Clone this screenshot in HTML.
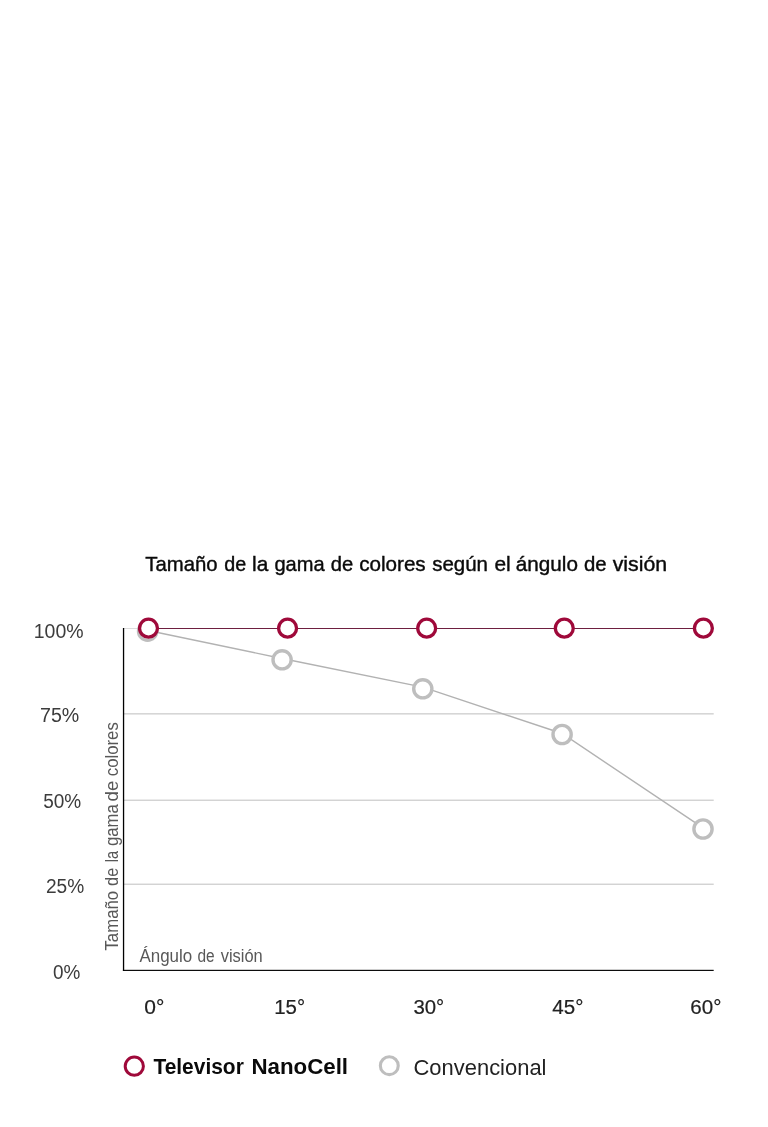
<!DOCTYPE html>
<html lang="es">
<head>
<meta charset="utf-8">
<title>Tamaño de la gama de colores según el ángulo de visión</title>
<style>
  html, body { margin: 0; padding: 0; background: #ffffff; }
  body { width: 768px; height: 1127px; overflow: hidden; position: relative; }
  svg { position: absolute; left: 0; top: 0; display: block; }
  text { font-family: "Liberation Sans", sans-serif; white-space: pre; }
  .title { font-size: 21px; fill: #0a0a0a; stroke: #0a0a0a; stroke-width: 0.4px; }
  .ylab { font-size: 20px; fill: #3c3c3c; }
  .xlab { font-size: 19.5px; fill: #222222; stroke: #222222; stroke-width: 0.2px; }
  .axt { font-size: 18.9px; fill: #585858; }
  .leg1 { font-size: 21.5px; font-weight: bold; fill: #0a0a0a; }
  .leg2 { font-size: 21.5px; fill: #222222; }
</style>
</head>
<body>
<svg width="768" height="1127" viewBox="0 0 768 1127">
  <rect x="0" y="0" width="768" height="1127" fill="#ffffff"/>

  <!-- gridlines -->
  <rect x="124" y="628" width="24" height="1" fill="#dcdcdc"/>
  <rect x="124" y="713" width="589.7" height="1.6" fill="#d6d6d6"/>
  <rect x="124" y="799.55" width="589.7" height="1.45" fill="#d3d3d3"/>
  <rect x="124" y="883.55" width="589.7" height="1.45" fill="#d3d3d3"/>

  <!-- axes -->
  <rect x="122.9" y="628" width="1.3" height="342.9" fill="#000000"/>
  <rect x="122.9" y="969.8" width="590.8" height="1.15" fill="#000000"/>

  <!-- conventional series -->
  <polyline points="148,630.5 282,658.5 422.8,687.1 562.1,733.5 703,827.8" fill="none" stroke="#b2b2b2" stroke-width="1.4"/>
  <g fill="#ffffff" stroke="#bebebe" stroke-width="3.4">
    <circle cx="147.6" cy="631.2" r="9.1"/>
    <circle cx="282.1" cy="659.8" r="9.1"/>
    <circle cx="422.8" cy="688.8" r="9.1"/>
    <circle cx="562.1" cy="734.5" r="9.1"/>
    <circle cx="703" cy="829" r="9.1"/>
  </g>

  <!-- NanoCell series -->
  <line x1="148.5" y1="628.5" x2="703.4" y2="628.5" stroke="#6e1f40" stroke-width="1"/>
  <g fill="#ffffff" stroke="#9f093a" stroke-width="3.3">
    <circle cx="148.5" cy="628.15" r="8.95"/>
    <circle cx="287.6" cy="628.15" r="8.95"/>
    <circle cx="426.7" cy="628.15" r="8.95"/>
    <circle cx="564.3" cy="628.15" r="8.95"/>
    <circle cx="703.4" cy="628.15" r="8.95"/>
  </g>

  <!-- legend markers -->
  <circle cx="134.3" cy="1066.2" r="9.1" fill="#ffffff" stroke="#9f093a" stroke-width="3.0"/>
  <circle cx="389.3" cy="1065.7" r="8.95" fill="#ffffff" stroke="#bebebe" stroke-width="3.1"/>

  <!-- text -->
  <text class="title" y="571.4"><tspan x="145.28" textLength="72.32" lengthAdjust="spacingAndGlyphs">Tamaño</tspan> <tspan x="224.24" textLength="21.95" lengthAdjust="spacingAndGlyphs">de</tspan> <tspan x="252.11" textLength="16.23" lengthAdjust="spacingAndGlyphs">la</tspan> <tspan x="274.41" textLength="50.20" lengthAdjust="spacingAndGlyphs">gama</tspan> <tspan x="330.82" textLength="22.44" lengthAdjust="spacingAndGlyphs">de</tspan> <tspan x="359.15" textLength="66.56" lengthAdjust="spacingAndGlyphs">colores</tspan> <tspan x="432.26" textLength="55.74" lengthAdjust="spacingAndGlyphs">según</tspan> <tspan x="494.42" textLength="16.27" lengthAdjust="spacingAndGlyphs">el</tspan> <tspan x="515.81" textLength="62.13" lengthAdjust="spacingAndGlyphs">ángulo</tspan> <tspan x="583.95" textLength="22.65" lengthAdjust="spacingAndGlyphs">de</tspan> <tspan x="612.65" textLength="54.49" lengthAdjust="spacingAndGlyphs">visión</tspan></text>
  <text class="ylab" y="637.8"><tspan x="33.81" textLength="49.79" lengthAdjust="spacingAndGlyphs">100%</tspan></text>
  <text class="ylab" y="721.8"><tspan x="39.99" textLength="39.23" lengthAdjust="spacingAndGlyphs">75%</tspan></text>
  <text class="ylab" y="807.5"><tspan x="43.15" textLength="38.06" lengthAdjust="spacingAndGlyphs">50%</tspan></text>
  <text class="ylab" y="892.7"><tspan x="45.90" textLength="38.26" lengthAdjust="spacingAndGlyphs">25%</tspan></text>
  <text class="ylab" y="978.8"><tspan x="53.07" textLength="27.33" lengthAdjust="spacingAndGlyphs">0%</tspan></text>
  <text class="xlab" y="1014"><tspan x="144.38" textLength="20.10" lengthAdjust="spacingAndGlyphs">0°</tspan></text>
  <text class="xlab" y="1014"><tspan x="274.22" textLength="30.89" lengthAdjust="spacingAndGlyphs">15°</tspan></text>
  <text class="xlab" y="1014"><tspan x="413.40" textLength="30.86" lengthAdjust="spacingAndGlyphs">30°</tspan></text>
  <text class="xlab" y="1014"><tspan x="552.36" textLength="31.08" lengthAdjust="spacingAndGlyphs">45°</tspan></text>
  <text class="xlab" y="1014"><tspan x="690.39" textLength="31.11" lengthAdjust="spacingAndGlyphs">60°</tspan></text>
  <text class="axt" y="962.0"><tspan x="139.47" textLength="52.73" lengthAdjust="spacingAndGlyphs">Ángulo</tspan> <tspan x="197.40" textLength="17.20" lengthAdjust="spacingAndGlyphs">de</tspan> <tspan x="220.66" textLength="42.04" lengthAdjust="spacingAndGlyphs">visión</tspan></text>
  <text class="leg1" y="1074.3"><tspan x="153.42" textLength="90.38" lengthAdjust="spacingAndGlyphs">Televisor</tspan> <tspan x="251.43" textLength="96.63" lengthAdjust="spacingAndGlyphs">NanoCell</tspan></text>
  <text class="leg2" y="1074.5"><tspan x="413.51" textLength="132.97" lengthAdjust="spacingAndGlyphs">Convencional</tspan></text>
  <text class="axt" transform="translate(117.7 950.0) rotate(-90)" y="0"><tspan x="-0.60" textLength="59.76" lengthAdjust="spacingAndGlyphs">Tamaño</tspan> <tspan x="64.11" textLength="18.12" lengthAdjust="spacingAndGlyphs">de</tspan> <tspan x="87.87" textLength="11.34" lengthAdjust="spacingAndGlyphs">la</tspan> <tspan x="103.99" textLength="41.78" lengthAdjust="spacingAndGlyphs">gama</tspan> <tspan x="148.60" textLength="20.79" lengthAdjust="spacingAndGlyphs">de</tspan> <tspan x="173.77" textLength="54.05" lengthAdjust="spacingAndGlyphs">colores</tspan></text>
</svg>
</body>
</html>
